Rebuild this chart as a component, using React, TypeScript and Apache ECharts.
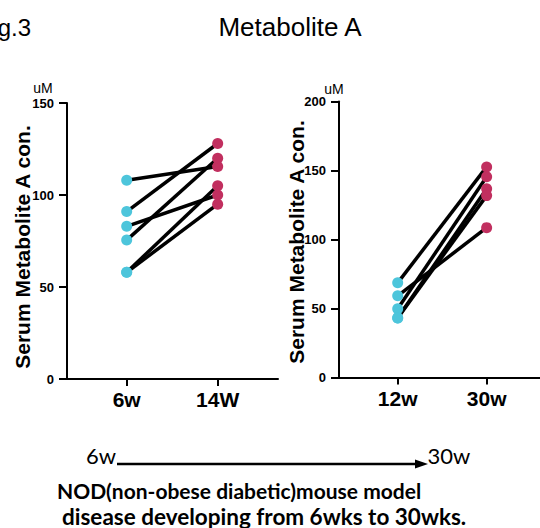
import React, { useEffect, useRef } from "react";
import * as echarts from "echarts";

const leftCats = ["6w", "14W"];
const rightCats = ["12w", "30w"];
const left6w = [108, 91, 83, 75.5, 58, 58];
const left14w = [115.5, 128, 100, 120, 105, 95];
const right12w = [68.6, 59.2, 49.8, 43.2, 43.2];
const right30w = [152.6, 108.6, 145.4, 136.7, 131.8];
const leftTicks = { min: 0, max: 150, interval: 50 };
const rightTicks = { min: 0, max: 200, interval: 50 };

const BLUE = "#4dc5db";
const RED = "#c12f5f";
const AXIS_FONT = "Liberation Sans, Arial, sans-serif";
const NOTE_FONT = "Lato, Open Sans, sans-serif";

function xAxisFor(cats: string[], gridIndex: number, min: number, max: number) {
  return {
    type: "value",
    gridIndex,
    min,
    max,
    axisLine: { show: true, onZero: false, lineStyle: { color: "#000", width: 2 } },
    axisTick: { show: true, customValues: [0, 1], length: 7, lineStyle: { color: "#000", width: 2 } },
    axisLabel: {
      show: true,
      customValues: [0, 1],
      formatter: (v: number) => cats[Math.round(v)] ?? "",
      fontFamily: AXIS_FONT,
      fontWeight: "bold",
      fontSize: 21,
      color: "#000",
      margin: 10,
    },
    splitLine: { show: false },
  };
}

function yAxisFor(t: { min: number; max: number; interval: number }, gridIndex: number) {
  return {
    type: "value",
    gridIndex,
    min: t.min,
    max: t.max,
    interval: t.interval,
    axisLine: { show: true, onZero: false, lineStyle: { color: "#000", width: 2 } },
    axisTick: { show: true, length: 8, lineStyle: { color: "#000", width: 2 } },
    axisLabel: {
      fontFamily: AXIS_FONT,
      fontWeight: "bold",
      fontSize: 13,
      color: "#000",
      margin: 13,
    },
    splitLine: { show: false },
  };
}

function pairSeries(a: number[], b: number[], idx: number) {
  const lines = a.map((v, i) => ({
    type: "line",
    xAxisIndex: idx,
    yAxisIndex: idx,
    data: [
      [0, v],
      [1, b[i]],
    ],
    symbol: "none",
    lineStyle: { color: "#000", width: 3.5 },
    z: 2,
    silent: true,
  }));
  return [
    ...lines,
    {
      type: "scatter",
      xAxisIndex: idx,
      yAxisIndex: idx,
      data: a.map((v) => [0, v]),
      symbolSize: 11,
      itemStyle: { color: BLUE, opacity: 1 },
      z: 3,
    },
    {
      type: "scatter",
      xAxisIndex: idx,
      yAxisIndex: idx,
      data: b.map((v) => [1, v]),
      symbolSize: 11,
      itemStyle: { color: RED, opacity: 1 },
      z: 3,
    },
  ];
}

export default function App() {
  const ref = useRef<HTMLDivElement>(null);
  useEffect(() => {
    if (!ref.current) return;
    const chart = echarts.init(ref.current, null, { renderer: "svg" });
    const nameStyle = {
      fontFamily: AXIS_FONT,
      fontWeight: "bold",
      fontSize: 21,
      fill: "#000",
      align: "center",
      verticalAlign: "middle",
    };
    chart.setOption({
      animation: false,
      backgroundColor: "#fff",
      grid: [
        { left: 67, top: 103, width: 211, height: 276 },
        { left: 339, top: 101.5, width: 205, height: 276 },
      ],
      xAxis: [xAxisFor(leftCats, 0, -0.656, 1.663), xAxisFor(rightCats, 1, -0.66, 1.6)],
      yAxis: [yAxisFor(leftTicks, 0), yAxisFor(rightTicks, 1)],
      series: [...pairSeries(left6w, left14w, 0), ...pairSeries(right12w, right30w, 1)],
      graphic: [
        {
          type: "text",
          x: 290,
          y: 27,
          style: { text: "Metabolite A", fontFamily: AXIS_FONT, fontSize: 26, fill: "#000", align: "center", verticalAlign: "middle" },
        },
        {
          type: "text",
          x: 31,
          y: 27,
          style: { text: "Fig.3", fontFamily: AXIS_FONT, fontSize: 24, fill: "#000", align: "right", verticalAlign: "middle" },
        },
        {
          type: "text",
          x: 43,
          y: 88,
          style: { text: "uM", fontFamily: AXIS_FONT, fontSize: 14, fill: "#000", align: "center", verticalAlign: "middle" },
        },
        {
          type: "text",
          x: 334,
          y: 89,
          style: { text: "uM", fontFamily: AXIS_FONT, fontSize: 14, fill: "#000", align: "center", verticalAlign: "middle" },
        },
        {
          type: "text",
          x: 22,
          y: 247,
          rotation: Math.PI / 2,
          style: { ...nameStyle, text: "Serum Metabolite A con." },
        },
        {
          type: "text",
          x: 296,
          y: 242,
          rotation: Math.PI / 2,
          style: { ...nameStyle, text: "Serum Metabolite A con." },
        },
        {
          type: "text",
          x: 101,
          y: 455,
          style: { text: "6w", fontFamily: NOTE_FONT, fontSize: 22, fill: "#000", align: "center", verticalAlign: "middle" },
        },
        {
          type: "text",
          x: 449,
          y: 455,
          style: { text: "30w", fontFamily: NOTE_FONT, fontSize: 22, fill: "#000", align: "center", verticalAlign: "middle" },
        },
        {
          type: "line",
          shape: { x1: 117, y1: 464, x2: 420, y2: 464 },
          style: { stroke: "#000", lineWidth: 2.5 },
        },
        {
          type: "polygon",
          shape: { points: [[415, 459.5], [428, 464], [415, 468.5]] },
          style: { fill: "#000" },
        },
        {
          type: "text",
          x: 57,
          y: 490,
          style: { text: "NOD(non-obese diabetic)mouse model", fontFamily: NOTE_FONT, fontWeight: "bold", fontSize: 21, fill: "#000", align: "left", verticalAlign: "middle" },
        },
        {
          type: "text",
          x: 62,
          y: 516,
          style: { text: "disease developing from 6wks to 30wks.", fontFamily: NOTE_FONT, fontWeight: "bold", fontSize: 22.5, fill: "#000", align: "left", verticalAlign: "middle" },
        },
      ],
    });
    return () => chart.dispose();
  }, []);
  return <div ref={ref} style={{ position: "fixed", left: 0, top: 0, width: 540, height: 528 }} />;
}
